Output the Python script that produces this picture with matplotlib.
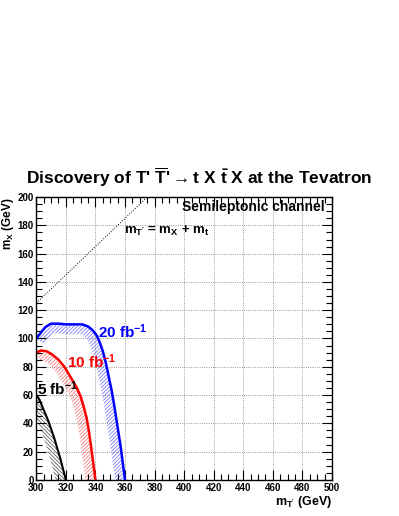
import numpy as np
import matplotlib
matplotlib.use('Agg')
import matplotlib.pyplot as plt
from matplotlib.ticker import MultipleLocator

plt.rcParams['font.family'] = ['Liberation Sans', 'DejaVu Sans']
plt.rcParams['font.weight'] = 'bold'
plt.rcParams['mathtext.fontset'] = 'custom'
plt.rcParams['mathtext.rm'] = 'Liberation Sans:bold'
plt.rcParams['mathtext.bf'] = 'Liberation Sans:bold'
plt.rcParams['mathtext.it'] = 'Liberation Sans:bold'
plt.rcParams['hatch.linewidth'] = 0.5

# discovery contours (m_T', m_X)
x20 = [300, 303, 306, 310, 315, 320, 326, 331, 335, 338, 341, 343, 345, 347, 349, 351, 352.5, 354, 355.5, 357, 358.5, 360]
y20 = [100, 104, 108, 110.5, 110.5, 110, 110, 110, 108.5, 106, 102, 97, 91, 83, 73, 63, 54, 44, 34, 24, 12, 0]
x10 = [300, 303, 307, 311, 315, 319, 323, 327, 330, 332, 334, 335.5, 337, 338.5, 340]
y10 = [90, 91.5, 91, 88.5, 85, 80, 73, 66, 59, 52, 44, 35, 24, 12, 0]
x5 = [300, 302, 304, 306, 308, 310, 312, 314, 316, 318, 320]
y5 = [60, 57, 52, 47, 42, 36, 30, 23, 16, 8, 0]
m_top = 175

fig = plt.figure(figsize=(3.99, 5.16), dpi=100)
ax = fig.add_axes([0.091, 0.07, 0.741, 0.548])
ax.set_xlim(300, 500)
ax.set_ylim(0, 200)

ax.xaxis.set_major_locator(MultipleLocator(20))
ax.xaxis.set_minor_locator(MultipleLocator(5))
ax.yaxis.set_major_locator(MultipleLocator(20))
ax.yaxis.set_minor_locator(MultipleLocator(5))
ax.tick_params(which='both', direction='in', top=True, right=True, labelsize=7, width=0.8, pad=2)
ax.tick_params(which='major', length=7)
ax.tick_params(which='minor', length=4)
ax.grid(True, which='major', linestyle=':', color='#777777', linewidth=0.6)
for s in ax.spines.values():
    s.set_linewidth(1)
for lab in ax.get_xticklabels() + ax.get_yticklabels():
    lab.set_fontweight('bold')


def hatch_band(xs, ys, color, hatch, width=10):
    # band of given pixel width on the lower-left side of the curve
    pts = ax.transData.transform(np.column_stack([xs, ys]))
    d = np.gradient(pts, axis=0)
    d /= np.linalg.norm(d, axis=1)[:, None]
    nrm = np.column_stack([d[:, 1], -d[:, 0]])
    inner = pts + width * nrm
    poly = np.vstack([pts, inner[::-1]])
    poly = ax.transData.inverted().transform(poly)
    ax.fill(poly[:, 0], poly[:, 1], facecolor='none', edgecolor=color,
            hatch=hatch, linewidth=0)


hatch_band(x20, y20, '#6666ff', '/' * 9)
hatch_band(x10, y10, '#ff6666', '/' * 9)
hatch_band(x5, y5, '#444444', '\\' * 9)

ax.plot(x20, y20, color='blue', linewidth=1.8)
ax.plot(x10, y10, color='red', linewidth=1.8)
ax.plot(x5, y5, color='black', linewidth=1.5)

xd = np.array([300, 500])
ax.plot(xd, xd - m_top, color='black', linestyle=':', linewidth=0.7)

ax.text(342, 105, r'20 fb$^{\mathbf{-1}}$', color='blue', fontsize=11, fontweight='bold', va='center')
ax.text(320.5, 83.5, r'10 fb$^{\mathbf{-1}}$', color='red', fontsize=11, fontweight='bold', va='center')
ax.text(300.5, 64.5, r'5 fb$^{\mathbf{-1}}$', color='black', fontsize=11, fontweight='bold', va='center')

ax.text(495, 193, 'Semileptonic channel', fontsize=10, fontweight='bold', ha='right', va='center')
ax.text(359.5, 176, r'$\mathbf{m_{T^{\prime}}}$ = $\mathbf{m_X}$ + $\mathbf{m_t}$', fontsize=9.5,
        fontweight='bold', va='center')

ax.set_xlabel(r'$\mathbf{m_{T^{\prime}}}$ (GeV)', fontsize=9, fontweight='bold', loc='right', labelpad=1)
ax.set_ylabel(r'$\mathbf{m_X}$ (GeV)', fontsize=8.5, fontweight='bold', loc='top')
ax.yaxis.set_label_coords(-0.07, 1.0)

fig.text(0.5, 0.657, r"Discovery of T' $\mathbf{\overline{T}}$'$\rightarrow$t X $\mathbf{\bar{t}}$ X at the Tevatron",
         fontsize=12.5, fontweight='bold', ha='center', va='center')

fig.savefig('out.png', dpi=100)
